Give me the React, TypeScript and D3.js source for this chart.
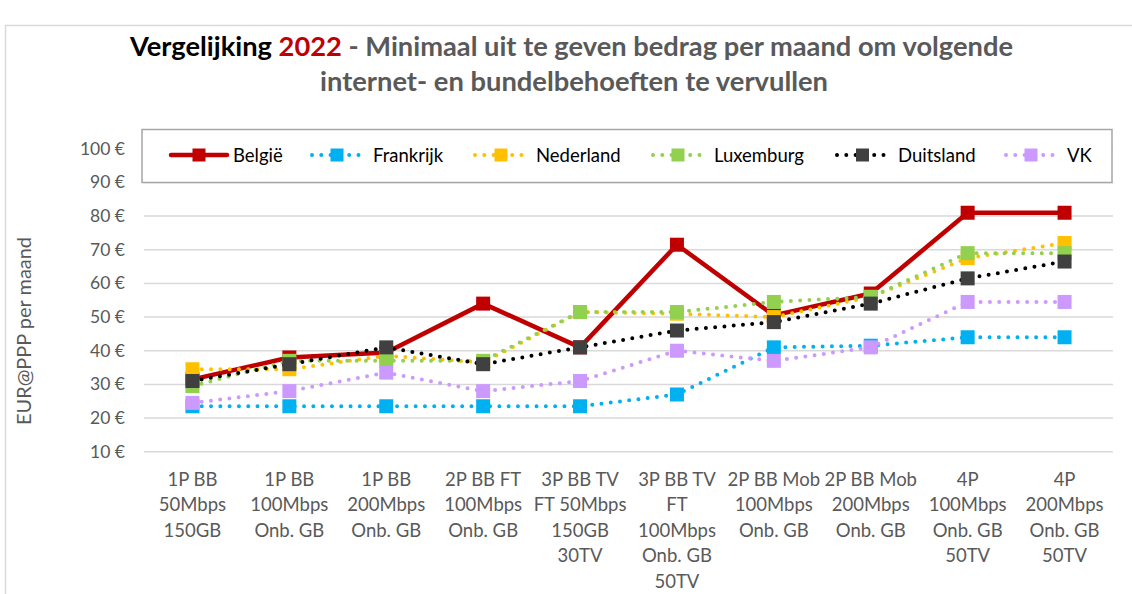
import React from "react";
import * as d3 from "d3";

const categories = [
  "1P BB\n50Mbps\n150GB",
  "1P BB\n100Mbps\nOnb. GB",
  "1P BB\n200Mbps\nOnb. GB",
  "2P BB FT\n100Mbps\nOnb. GB",
  "3P BB TV\nFT 50Mbps\n150GB\n30TV",
  "3P BB TV\nFT\n100Mbps\nOnb. GB\n50TV",
  "2P BB Mob\n100Mbps\nOnb. GB",
  "2P BB Mob\n200Mbps\nOnb. GB",
  "4P\n100Mbps\nOnb. GB\n50TV",
  "4P\n200Mbps\nOnb. GB\n50TV",
];

const belgie = [31.5, 38, 39.5, 54, 41, 71.5, 50.5, 57, 81, 81];
const frankrijk = [23.5, 23.5, 23.5, 23.5, 23.5, 27, 41, 41.5, 44, 44];
const nederland = [34.5, 34.5, 38.5, 36.5, 51.5, 51, 50, 56, 67.5, 72];
const luxemburg = [29.5, 37, 37, 37, 51.5, 51.5, 54.5, 56, 69, 69];
const duitsland = [31, 36, 41, 36, 41, 46, 48.5, 54, 61.5, 66.5];
const vk = [24.5, 28, 33.5, 28, 31, 40, 37, 41, 54.5, 54.5];

const yTicks = [10, 20, 30, 40, 50, 60, 70, 80, 90, 100];

const series = [
  { name: "België", values: belgie, line: "#C00000", marker: "#C00000", solid: true },
  { name: "Frankrijk", values: frankrijk, line: "#00B0F0", marker: "#00B0F0", solid: false },
  { name: "Nederland", values: nederland, line: "#FFC000", marker: "#FFC000", solid: false },
  { name: "Luxemburg", values: luxemburg, line: "#92D050", marker: "#92D050", solid: false },
  { name: "Duitsland", values: duitsland, line: "#000000", marker: "#404040", solid: false },
  { name: "VK", values: vk, line: "#CC99FF", marker: "#CC99FF", solid: false },
];

const legendPos = [
  { x1: 171, x2: 227, tx: 233 },
  { x1: 312, x2: 362, tx: 373 },
  { x1: 475, x2: 527, tx: 536 },
  { x1: 653, x2: 703, tx: 714 },
  { x1: 837, x2: 888, tx: 898 },
  { x1: 1006, x2: 1056, tx: 1067 },
];

const FONT = "Lato, 'Open Sans', sans-serif";

export default function App() {
  const W = 1132, H = 594;
  const left = 144, right = 1113, top = 148.8, bottom = 451.7;
  const x = d3.scaleBand<number>().domain(d3.range(categories.length)).range([left, right]);
  const y = d3.scaleLinear().domain([10, 100]).range([bottom, top]);
  const cx = (i: number) => (x(i) as number) + x.bandwidth() / 2;
  const lineGen = d3.line<number>().x((_, i) => cx(i)).y((d) => y(d));
  const ms = 14;

  return (
    <svg width={W} height={H} style={{ position: "absolute", left: 0, top: 0, background: "#fff" }}>
      <rect x={0} y={0} width={W} height={H} fill="#fff" />
      <rect x={5.5} y={25.5} width={1140} height={620} fill="#fff" stroke="#d9d9d9" strokeWidth={1.5} />
      {/* title */}
      <text
        x={130}
        y={56}
        textLength={883}
        lengthAdjust="spacingAndGlyphs"
        fontFamily={FONT}
        fontWeight="bold"
        fontSize={26}
        fill="#595959"
      >
        <tspan fill="#000">Vergelijking </tspan>
        <tspan fill="#C00000">2022</tspan>
        <tspan> - Minimaal uit te geven bedrag per maand om volgende</tspan>
      </text>
      <text
        x={320}
        y={91}
        textLength={508}
        lengthAdjust="spacingAndGlyphs"
        fontFamily={FONT}
        fontWeight="bold"
        fontSize={26}
        fill="#595959"
      >
        internet- en bundelbehoeften te vervullen
      </text>
      {/* gridlines */}
      {yTicks.map((t) => (
        <line key={t} x1={left} x2={right} y1={y(t)} y2={y(t)} stroke="#d9d9d9" strokeWidth={1.5} />
      ))}
      {yTicks.map((t) => (
        <text key={"l" + t} x={125} y={y(t) + 6} textAnchor="end" fontFamily={FONT} fontSize={17.5} fill="#595959">
          {t} €
        </text>
      ))}
      <text
        transform={`translate(31, 331) rotate(-90)`}
        textAnchor="middle"
        fontFamily={FONT}
        fontSize={19}
        textLength={188}
        lengthAdjust="spacingAndGlyphs"
        fill="#595959"
      >
        EUR@PPP per maand
      </text>
      {/* x labels */}
      {categories.map((c, i) => (
        <text key={"c" + i} textAnchor="middle" fontFamily={FONT} fontSize={18.5} fill="#595959">
          {c.split("\n").map((ln, j) => (
            <tspan key={j} x={cx(i)} y={485.5 + j * 25.6}>
              {ln}
            </tspan>
          ))}
        </text>
      ))}
      {/* series */}
      {series.map((s) => (
        <g key={s.name}>
          <path
            d={lineGen(s.values) || ""}
            fill="none"
            stroke={s.line}
            strokeWidth={s.solid ? 4.5 : 4}
            strokeLinecap="round"
            strokeLinejoin="round"
            strokeDasharray={s.solid ? undefined : "0 9.3"}
          />
          {s.values.map((v, i) => (
            <rect key={i} x={cx(i) - ms / 2} y={y(v) - ms / 2} width={ms} height={ms} fill={s.marker} />
          ))}
        </g>
      ))}
      {/* legend */}
      <rect x={142} y={129.5} width={970} height={53} fill="#fff" stroke="#a6a6a6" strokeWidth={1.5} />
      {series.map((s, i) => {
        const p = legendPos[i];
        const ly = 155;
        const mx = (p.x1 + p.x2) / 2;
        return (
          <g key={"lg" + s.name}>
            <line
              x1={p.x1}
              x2={p.x2}
              y1={ly}
              y2={ly}
              stroke={s.line}
              strokeWidth={s.solid ? 4.5 : 4}
              strokeLinecap="round"
              strokeDasharray={s.solid ? undefined : "0 9.3"}
            />
            <rect x={mx - 6.5} y={ly - 6.5} width={13} height={13} fill={s.marker} />
            <text x={p.tx} y={ly + 6.5} fontFamily={FONT} fontSize={18.5} fill="#000">
              {s.name}
            </text>
          </g>
        );
      })}
    </svg>
  );
}
